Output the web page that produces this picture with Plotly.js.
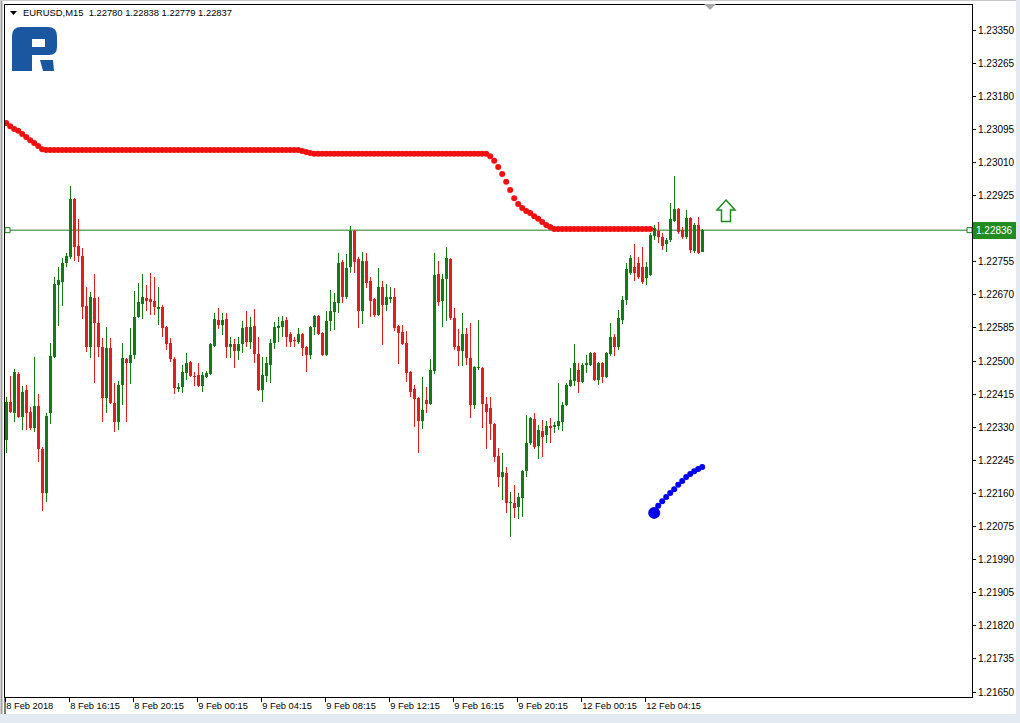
<!DOCTYPE html>
<html><head><meta charset="utf-8">
<script src="https://cdn.plot.ly/plotly-3.0.1.min.js"></script>
<style>html,body{margin:0;padding:0;background:#fff;overflow:hidden}#chart{width:1020px;height:723px}</style>
</head><body><div id="chart"></div>
<script>
// ---------------- data ----------------
const symbol = 'EURUSD';
const timeframe = 'M15';
const barOpen = [
1.22297,1.22395,1.22366,1.22467,1.22356,1.22426,1.22369,1.22328,1.22384,1.22274,
1.22161,1.22366,1.22510,1.22695,1.22703,1.22752,1.22767,1.22916,1.22795,1.22770,
1.22641,1.22536,1.22662,1.22598,1.22536,1.22405,1.22533,1.22392,1.22343,1.22438,
1.22505,1.22495,1.22515,1.22613,1.22646,1.22662,1.22659,1.22654,1.22634,1.22639,
1.22587,1.22546,1.22505,1.22428,1.22433,1.22469,1.22497,1.22461,1.22464,1.22436,
1.22459,1.22467,1.22539,1.22605,1.22592,1.22608,1.22536,1.22544,1.22526,1.22544,
1.22587,1.22549,1.22590,1.22518,1.22426,1.22461,1.22490,1.22546,1.22585,1.22587,
1.22605,1.22569,1.22554,1.22549,1.22569,1.22536,1.22515,1.22587,1.22616,1.22572,
1.22515,1.22603,1.22626,1.22649,1.22754,1.22664,1.22741,1.22834,1.22762,1.22628,
1.22757,1.22705,1.22659,1.22618,1.22690,1.22644,1.22659,1.22664,1.22590,1.22575,
1.22546,1.22472,1.22428,1.22405,1.22346,1.22400,1.22390,1.22474,1.22723,1.22654,
1.22711,1.22762,1.22610,1.22539,1.22526,1.22569,1.22508,1.22387,1.22482,1.22482,
1.22390,1.22379,1.22338,1.22256,1.22202,1.22212,1.22135,1.22135,1.22125,1.22148,
1.22217,1.22289,1.22351,1.22282,1.22320,1.22310,1.22333,1.22330,1.22333,1.22343,
1.22387,1.22436,1.22449,1.22477,1.22446,1.22490,1.22490,1.22521,1.22451,1.22495,
1.22459,1.22518,1.22562,1.22536,1.22605,1.22657,1.22726,1.22741,1.22752,1.22741,
1.22713,1.22721,1.22821,1.22834,1.22818,1.22800,1.22811,1.22859,1.22890,1.22836,
1.22818,1.22867,1.22782,1.22849,1.22780];
const barHigh = [
1.22408,1.22461,1.22479,1.22472,1.22436,1.22438,1.22382,1.22510,1.22415,1.22279,
1.22366,1.22546,1.22716,1.22741,1.22765,1.22777,1.22949,1.22918,1.22865,1.22790,
1.22690,1.22677,1.22723,1.22664,1.22559,1.22587,1.22559,1.22444,1.22449,1.22546,
1.22508,1.22585,1.22680,1.22700,1.22723,1.22695,1.22726,1.22716,1.22690,1.22644,
1.22589,1.22559,1.22510,1.22444,1.22490,1.22521,1.22500,1.22472,1.22495,1.22472,
1.22474,1.22546,1.22623,1.22636,1.22623,1.22623,1.22562,1.22557,1.22562,1.22603,
1.22628,1.22613,1.22634,1.22562,1.22510,1.22510,1.22557,1.22600,1.22613,1.22616,
1.22613,1.22575,1.22562,1.22585,1.22572,1.22539,1.22590,1.22618,1.22618,1.22575,
1.22628,1.22682,1.22675,1.22777,1.22759,1.22775,1.22847,1.22836,1.22767,1.22780,
1.22777,1.22716,1.22662,1.22739,1.22705,1.22698,1.22690,1.22687,1.22592,1.22592,
1.22577,1.22474,1.22438,1.22408,1.22459,1.22433,1.22505,1.22777,1.22757,1.22723,
1.22793,1.22765,1.22636,1.22582,1.22623,1.22585,1.22598,1.22487,1.22605,1.22485,
1.22408,1.22408,1.22340,1.22277,1.22264,1.22228,1.22164,1.22182,1.22161,1.22220,
1.22361,1.22356,1.22366,1.22336,1.22348,1.22346,1.22354,1.22343,1.22444,1.22395,
1.22444,1.22482,1.22544,1.22495,1.22495,1.22515,1.22523,1.22523,1.22497,1.22497,
1.22523,1.22598,1.22569,1.22631,1.22667,1.22752,1.22772,1.22800,1.22767,1.22793,
1.22754,1.22829,1.22849,1.22857,1.22829,1.22816,1.22906,1.22975,1.22893,1.22844,
1.22888,1.22870,1.22854,1.22870,1.22838];
const barLow = [
1.22264,1.22366,1.22343,1.22354,1.22323,1.22323,1.22323,1.22318,1.22241,1.22115,
1.22138,1.22338,1.22508,1.22590,1.22641,1.22741,1.22762,1.22757,1.22754,1.22608,
1.22523,1.22508,1.22444,1.22510,1.22343,1.22366,1.22390,1.22318,1.22323,1.22387,
1.22343,1.22441,1.22505,1.22610,1.22608,1.22628,1.22618,1.22618,1.22592,1.22562,
1.22528,1.22497,1.22415,1.22420,1.22418,1.22451,1.22459,1.22436,1.22433,1.22420,
1.22456,1.22464,1.22536,1.22582,1.22567,1.22508,1.22508,1.22482,1.22503,1.22521,
1.22536,1.22531,1.22495,1.22423,1.22395,1.22446,1.22444,1.22531,1.22549,1.22562,
1.22536,1.22536,1.22536,1.22544,1.22513,1.22472,1.22505,1.22567,1.22567,1.22513,
1.22513,1.22577,1.22580,1.22623,1.22649,1.22659,1.22726,1.22726,1.22585,1.22595,
1.22687,1.22613,1.22613,1.22616,1.22541,1.22628,1.22649,1.22577,1.22492,1.22541,
1.22446,1.22408,1.22330,1.22264,1.22325,1.22366,1.22387,1.22467,1.22641,1.22587,
1.22603,1.22605,1.22528,1.22487,1.22487,1.22490,1.22354,1.22377,1.22477,1.22328,
1.22274,1.22297,1.22241,1.22176,1.22143,1.22110,1.22048,1.22097,1.22094,1.22099,
1.22202,1.22284,1.22274,1.22248,1.22253,1.22289,1.22289,1.22315,1.22323,1.22320,
1.22384,1.22433,1.22436,1.22418,1.22444,1.22469,1.22487,1.22449,1.22438,1.22444,
1.22456,1.22513,1.22513,1.22528,1.22595,1.22644,1.22721,1.22705,1.22711,1.22698,
1.22695,1.22718,1.22811,1.22803,1.22785,1.22780,1.22806,1.22857,1.22826,1.22813,
1.22813,1.22777,1.22777,1.22775,1.22779];
const barClose = [
1.22395,1.22369,1.22472,1.22356,1.22420,1.22366,1.22328,1.22384,1.22274,1.22161,
1.22359,1.22513,1.22698,1.22708,1.22752,1.22770,1.22916,1.22793,1.22770,1.22639,
1.22536,1.22664,1.22598,1.22536,1.22405,1.22533,1.22392,1.22343,1.22438,1.22508,
1.22495,1.22515,1.22613,1.22652,1.22664,1.22654,1.22652,1.22639,1.22639,1.22585,
1.22544,1.22505,1.22431,1.22433,1.22472,1.22495,1.22461,1.22459,1.22436,1.22464,
1.22469,1.22544,1.22608,1.22592,1.22605,1.22536,1.22544,1.22526,1.22544,1.22585,
1.22549,1.22587,1.22518,1.22426,1.22464,1.22495,1.22546,1.22587,1.22590,1.22603,
1.22562,1.22549,1.22551,1.22569,1.22533,1.22515,1.22587,1.22616,1.22569,1.22515,
1.22603,1.22628,1.22652,1.22752,1.22664,1.22739,1.22834,1.22754,1.22628,1.22757,
1.22700,1.22654,1.22618,1.22690,1.22644,1.22664,1.22664,1.22585,1.22572,1.22544,
1.22469,1.22420,1.22402,1.22346,1.22374,1.22390,1.22477,1.22721,1.22652,1.22711,
1.22765,1.22610,1.22536,1.22526,1.22569,1.22508,1.22387,1.22485,1.22485,1.22390,
1.22369,1.22338,1.22253,1.22202,1.22215,1.22135,1.22138,1.22122,1.22151,1.22217,
1.22289,1.22354,1.22279,1.22323,1.22305,1.22333,1.22328,1.22336,1.22346,1.22387,
1.22438,1.22451,1.22495,1.22446,1.22490,1.22495,1.22521,1.22451,1.22495,1.22459,
1.22521,1.22562,1.22536,1.22610,1.22657,1.22736,1.22765,1.22726,1.22716,1.22703,
1.22741,1.22824,1.22841,1.22818,1.22795,1.22811,1.22865,1.22890,1.22831,1.22818,
1.22867,1.22785,1.22849,1.22777,1.22837];
// red dotted indicator, one value per bar from bar 0
const redDots = [
1.23111,1.23103,1.23096,1.23091,1.23083,1.23075,1.23067,1.23060,1.23052,1.23044,
1.23042,1.23042,1.23042,1.23042,1.23042,1.23042,1.23042,1.23042,1.23042,1.23042,
1.23042,1.23042,1.23042,1.23042,1.23042,1.23042,1.23042,1.23042,1.23042,1.23042,
1.23042,1.23042,1.23042,1.23042,1.23042,1.23042,1.23042,1.23042,1.23042,1.23042,
1.23042,1.23042,1.23042,1.23042,1.23042,1.23042,1.23042,1.23042,1.23042,1.23042,
1.23042,1.23042,1.23042,1.23042,1.23042,1.23042,1.23042,1.23042,1.23042,1.23042,
1.23042,1.23042,1.23042,1.23042,1.23042,1.23042,1.23042,1.23042,1.23042,1.23042,
1.23042,1.23042,1.23042,1.23042,1.23039,1.23037,1.23034,1.23032,1.23032,1.23032,
1.23032,1.23032,1.23032,1.23032,1.23032,1.23032,1.23032,1.23032,1.23032,1.23032,
1.23032,1.23032,1.23032,1.23032,1.23032,1.23032,1.23032,1.23032,1.23032,1.23032,
1.23032,1.23032,1.23032,1.23032,1.23032,1.23032,1.23032,1.23032,1.23032,1.23032,
1.23032,1.23032,1.23032,1.23032,1.23032,1.23032,1.23032,1.23032,1.23032,1.23032,
1.23032,1.23026,1.23014,1.22998,1.22980,1.22960,1.22939,1.22918,1.22903,1.22893,
1.22885,1.22880,1.22872,1.22865,1.22857,1.22849,1.22844,1.22839,1.22839,1.22839,
1.22839,1.22839,1.22839,1.22839,1.22839,1.22839,1.22839,1.22839,1.22839,1.22839,
1.22839,1.22839,1.22839,1.22839,1.22839,1.22839,1.22839,1.22839,1.22839,1.22839,
1.22839,1.22839];
// blue dotted indicator, starting at bar 162
const blueStartBar = 162;
const blueDots = [1.22110,1.22128,1.22140,1.22151,1.22161,1.22171,1.22182,1.22192,1.22202,1.22210,1.22217,1.22223,1.22228];
const bidPrice = 1.22836;
const yTickVals = [1.21650,1.21735,1.21820,1.21905,1.21990,1.22075,1.22160,1.22245,1.22330,1.22415,
                   1.22500,1.22585,1.22670,1.22755,1.22925,1.23010,1.23095,1.23180,1.23265,1.23350];
const xTickBars = [0,16,32,48,64,80,96,112,128,144,160];
const xTickText = ['8 Feb 2018','8 Feb 16:15','8 Feb 20:15','9 Feb 00:15','9 Feb 04:15','9 Feb 08:15',
                   '9 Feb 12:15','9 Feb 16:15','9 Feb 20:15','12 Feb 00:15','12 Feb 04:15'];

// ---------------- drawing ----------------
const UP = '#127c12', DN = '#e31c1c';
const idx = barOpen.map((_, i) => i);
const col = idx.map(i => barClose[i] >= barOpen[i] ? UP : DN);
const MINBODY = 0.00003;

const wicks = {type:'bar', x: idx, base: barLow, y: idx.map(i => barHigh[i] - barLow[i]),
  width: 0.25, marker:{color: col, line:{width:0}}, hoverinfo:'skip'};
const bodies = {type:'bar', x: idx, base: idx.map(i => Math.min(barOpen[i], barClose[i])),
  y: idx.map(i => Math.max(Math.abs(barClose[i] - barOpen[i]), MINBODY)),
  width: 0.75, marker:{color: col, line:{width:0}}, hoverinfo:'skip'};
const red = {type:'scatter', mode:'markers', x: redDots.map((_, i) => i), y: redDots,
  marker:{color:'#f01010', size:6, opacity:1, line:{width:0}}, hoverinfo:'skip'};
const blue = {type:'scatter', mode:'markers', x: blueDots.map((_, k) => blueStartBar + k), y: blueDots,
  marker:{color:'#0000f0', size: blueDots.map((_, k) => k === 0 ? 12 : 6), opacity:1, line:{width:0}}, hoverinfo:'skip'};

// pixel -> paper helpers for decorations
const L = 5, R = 972, T = 5, B = 697;
const PX = x => (x - L) / (R - L);
const PY = y => (B - y) / (B - T);
const pathPx = s => s.replace(/(-?[\d.]+),(-?[\d.]+)/g, (m, a, b) => PX(+a).toFixed(5) + ',' + PY(+b).toFixed(5));

const n = barOpen.length - 1;
const header = `${symbol},${timeframe}&nbsp;&nbsp;${barOpen[n].toFixed(5)} ${barHigh[n].toFixed(5)} ${barLow[n].toFixed(5)} ${barClose[n].toFixed(5)}`;

const shapes = [
  // bid line
  {type:'line', xref:'paper', yref:'y', x0:0, x1:1, y0:bidPrice, y1:bidPrice, line:{color:'#1e7a1e', width:1}, layer:'below'},
  {type:'rect', xref:'paper', yref:'y', xsizemode:'pixel', ysizemode:'pixel', xanchor:0, yanchor:bidPrice,
   x0:0, x1:5, y0:-2.5, y1:2.5, line:{color:'#1e7a1e', width:1}, fillcolor:'#fff'},
  {type:'rect', xref:'paper', yref:'y', xsizemode:'pixel', ysizemode:'pixel', xanchor:1, yanchor:bidPrice,
   x0:-5, x1:0, y0:-2.5, y1:2.5, line:{color:'#1e7a1e', width:1}, fillcolor:'#fff'},
  // window edges
  {type:'rect', xref:'paper', yref:'paper', x0:PX(0), x1:PX(1020), y0:PY(714), y1:PY(723), line:{width:0}, fillcolor:'#e3eaf2'},
  {type:'rect', xref:'paper', yref:'paper', x0:PX(1016), x1:PX(1020), y0:PY(0), y1:PY(723), line:{width:0}, fillcolor:'#e3eaf2'},
  {type:'line', xref:'paper', yref:'paper', x0:PX(1.5), x1:PX(1.5), y0:PY(0), y1:PY(714), line:{color:'#a0a0a0', width:2}},
  {type:'line', xref:'paper', yref:'paper', x0:PX(0), x1:PX(1016), y0:PY(0.5), y1:PY(0.5), line:{color:'#c8c8c8', width:1}},
  {type:'line', xref:'paper', yref:'paper', x0:PX(5), x1:PX(5), y0:PY(697), y1:PY(714), line:{color:'#000', width:1}},
  // shift marker
  {type:'path', xref:'paper', yref:'paper', path: pathPx('M704,4 L716,4 L710,10 Z'), fillcolor:'#a8a8a8', line:{width:0}},
  // header triangle
  {type:'path', xref:'paper', yref:'paper', path: pathPx('M10,11 L17,11 L13.5,15 Z'), fillcolor:'#000', line:{width:0}},
  // logo
  {type:'path', xref:'paper', yref:'paper', path: pathPx('M12,71 L12,36 Q12,27 21,27 L48,27 Q57,27 57,36 L57,47 Q57,55 49,55 L32,55 L32,71 Z'), fillcolor:'#1b56a0', line:{width:0}},
  {type:'path', xref:'paper', yref:'paper', path: pathPx('M32,39 L45,39 L45,47 L32,47 Z'), fillcolor:'#fff', line:{width:0}},
  {type:'path', xref:'paper', yref:'paper', path: pathPx('M40,60 L53,60 L54,71 L43,71 Z'), fillcolor:'#1b56a0', line:{width:0}},
  // up arrow signal
  {type:'path', xref:'paper', yref:'paper', path: pathPx('M726,200 L735,210 L730.5,210 L730.5,221.5 L721.5,221.5 L721.5,210 L717,210 Z'), fillcolor:'#fff', line:{color:'#1e8a1e', width:1.5}}
];

const annotations = [
  {xref:'paper', yref:'paper', x:PX(21), y:PY(13), xanchor:'left', yanchor:'middle', showarrow:false,
   text: header, font:{family:'Liberation Sans, Arial, sans-serif', size:9.4, color:'#000'}},
  {xref:'paper', yref:'y', x:1, y:bidPrice, xanchor:'left', yanchor:'middle', xshift:1, showarrow:false,
   text: bidPrice.toFixed(5), bgcolor:'#228b22', borderpad:3, borderwidth:0,
   font:{family:'Liberation Sans, Arial, sans-serif', size:10, color:'#fff'}}
];

const X0 = -0.3;
const layout = {
  width:1020, height:723,
  margin:{l:L, r:1020-R, t:T, b:723-B, pad:0},
  paper_bgcolor:'#fff', plot_bgcolor:'#fff',
  showlegend:false, barmode:'overlay', hovermode:false, bargap:0,
  font:{family:'Liberation Sans, Arial, sans-serif', color:'#000'},
  xaxis:{range:[X0, X0 + (R - L) / 4], autorange:false, showgrid:false, zeroline:false,
    showline:true, linecolor:'#000', linewidth:1, mirror:true,
    ticks:'outside', ticklen:4, tickcolor:'#000', tickwidth:1,
    tickvals: xTickBars.map(b => b - 0.25), ticktext: xTickText,
    ticklabelposition:'outside right', tickfont:{size:9.3, color:'#000'},
    automargin:false, fixedrange:true, rangeslider:{visible:false}},
  yaxis:{side:'right', range:[1.216372, 1.234142], autorange:false, showgrid:false, zeroline:false,
    showline:true, linecolor:'#000', linewidth:1, mirror:true,
    ticks:'outside', ticklen:3, tickcolor:'#000', tickwidth:1,
    tickvals: yTickVals, ticktext: yTickVals.map(v => v.toFixed(5)),
    tickfont:{size:10, color:'#000'}, automargin:false, fixedrange:true},
  shapes, annotations
};

Plotly.newPlot('chart', [wicks, bodies, red, blue], layout, {displayModeBar:false, staticPlot:true});
</script></body></html>
